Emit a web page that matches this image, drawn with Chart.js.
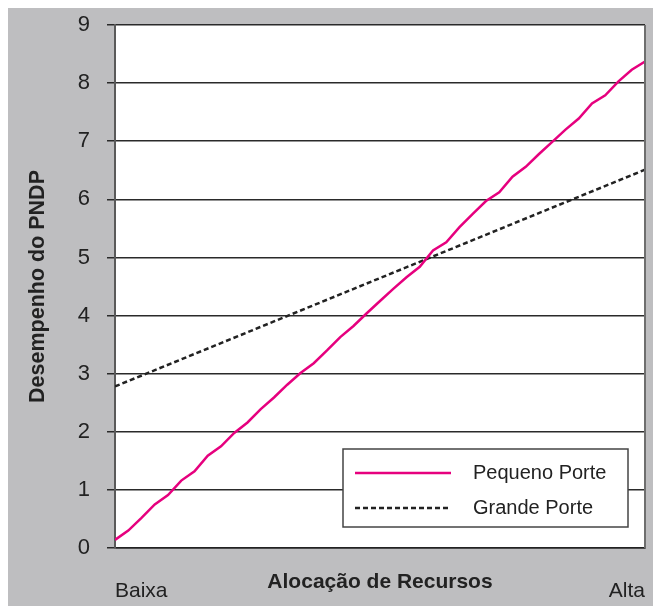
<!DOCTYPE html>
<html>
<head>
<meta charset="utf-8">
<script src="https://cdn.jsdelivr.net/npm/chart.js@4/dist/chart.umd.min.js"></script>
<style>
  html, body { margin: 0; padding: 0; background: #fff; }
  #wrap { position: absolute; left: 8px; top: 8px; width: 645px; height: 598px; background: #bebec0; }
</style>
</head>
<body>
<div id="wrap"><canvas id="myChart" width="645" height="598"></canvas></div>
<script>
// eixo x: de "Baixa" a "Alta" (posicoes 0..40)
const xTickLabels = ['Baixa', 'Alta'];
const xMax = 40;
const yTicks = [0, 1, 2, 3, 4, 5, 6, 7, 8, 9];

const pequenoPorte = [0.14, 0.30, 0.52, 0.75, 0.91, 1.16, 1.32, 1.59, 1.75, 1.98,
  2.16, 2.39, 2.59, 2.81, 3.01, 3.18, 3.40, 3.63, 3.82, 4.04,
  4.25, 4.46, 4.66, 4.84, 5.12, 5.26, 5.52, 5.75, 5.97, 6.12,
  6.39, 6.56, 6.78, 6.99, 7.20, 7.39, 7.65, 7.79, 8.03, 8.23, 8.37];

// Grande Porte, reta
const grandeX = [0, 40];
const grandePorte = [2.78, 6.51];

const seriesNames = ['Pequeno Porte', 'Grande Porte'];

const sans = "'Liberation Sans', Arial, sans-serif";

// fundo branco da area do grafico + borda direita
const plotBg = {
  id: 'plotBg',
  beforeDraw(chart) {
    const a = chart.chartArea, ctx = chart.ctx;
    ctx.save();
    ctx.fillStyle = '#fff';
    ctx.fillRect(a.left, a.top, a.right - a.left, a.bottom - a.top);
    ctx.restore();
  },
  afterDraw(chart) {
    const a = chart.chartArea, ctx = chart.ctx;
    ctx.save();
    ctx.strokeStyle = '#6e6e6e';
    ctx.lineWidth = 2;
    ctx.beginPath();
    ctx.moveTo(a.right, a.top);
    ctx.lineTo(a.right, a.bottom);
    ctx.stroke();
    ctx.restore();
  }
};

// legenda em caixa dentro da area do grafico
const boxLegend = {
  id: 'boxLegend',
  afterDraw(chart) {
    const a = chart.chartArea, ctx = chart.ctx;
    const w = 285, h = 78;
    const x0 = a.right - 17 - w, y0 = a.bottom - 21 - h;
    ctx.save();
    ctx.fillStyle = '#fff';
    ctx.fillRect(x0, y0, w, h);
    ctx.strokeStyle = '#444';
    ctx.lineWidth = 1.5;
    ctx.strokeRect(x0, y0, w, h);
    chart.data.datasets.forEach((ds, i) => {
      const y = y0 + 24 + i * 35;
      ctx.strokeStyle = ds.borderColor;
      ctx.lineWidth = ds.borderWidth;
      ctx.setLineDash(ds.borderDash || []);
      ctx.beginPath();
      ctx.moveTo(x0 + 12, y);
      ctx.lineTo(x0 + 108, y);
      ctx.stroke();
      ctx.setLineDash([]);
      ctx.fillStyle = '#222';
      ctx.font = '20px ' + sans;
      ctx.textBaseline = 'middle';
      ctx.fillText(ds.label, x0 + 130, y);
    });
    ctx.restore();
  }
};

let myChart = document.getElementById('myChart');

const massPopChart = new Chart(myChart, {
  type: 'line',
  data: {
    datasets: [{
      label: seriesNames[0],
      data: pequenoPorte.map((v, i) => ({ x: i, y: v })),
      borderColor: '#e6007e',
      borderWidth: 2.5,
      pointRadius: 0,
      tension: 0
    }, {
      label: seriesNames[1],
      data: grandePorte.map((v, i) => ({ x: grandeX[i], y: v })),
      borderColor: '#222',
      borderWidth: 2.5,
      borderDash: [5, 3],
      pointRadius: 0
    }]
  },
  options: {
    responsive: false,
    animation: false,
    layout: { padding: { top: 17, right: 8, left: 0, bottom: 0 } },
    plugins: {
      legend: { display: false },
      tooltip: { enabled: false }
    },
    scales: {
      x: {
        type: 'linear',
        min: 0,
        max: xMax,
        grid: { display: false, drawTicks: false },
        border: { display: true, color: '#222', width: 1.5 },
        ticks: {
          stepSize: xMax,
          align: 'inner',
          padding: 31,
          color: '#222',
          font: { family: sans, size: 21 },
          callback: (v) => v === 0 ? xTickLabels[0] : (v === xMax ? xTickLabels[1] : '')
        },
        title: {
          display: true,
          text: 'Alocação de Recursos',
          color: '#222',
          font: { family: sans, size: 21, weight: 'bold' },
          padding: { top: -40, bottom: 11 }
        },
        afterFit: (s) => { s.height = 58; s.paddingLeft = 0; s.paddingRight = 0; }
      },
      y: {
        min: 0,
        max: 9,
        afterBuildTicks: (s) => { s.ticks = yTicks.map(v => ({ value: v })); },
        grid: { color: '#2a2a2a', lineWidth: 1.5, tickLength: 8 },
        border: { display: true, color: '#5a5a5a', width: 2 },
        ticks: {
          padding: 17,
          color: '#222',
          font: { family: sans, size: 22 }
        },
        title: {
          display: true,
          text: 'Desempenho do PNDP',
          color: '#222',
          font: { family: sans, size: 21.5, weight: 'bold' },
          padding: { top: 17, bottom: 0 }
        },
        afterFit: (s) => { s.width = 107; s.paddingTop = 0; s.paddingBottom = 0; }
      }
    }
  },
  plugins: [plotBg, boxLegend]
});
</script>
</body>
</html>
